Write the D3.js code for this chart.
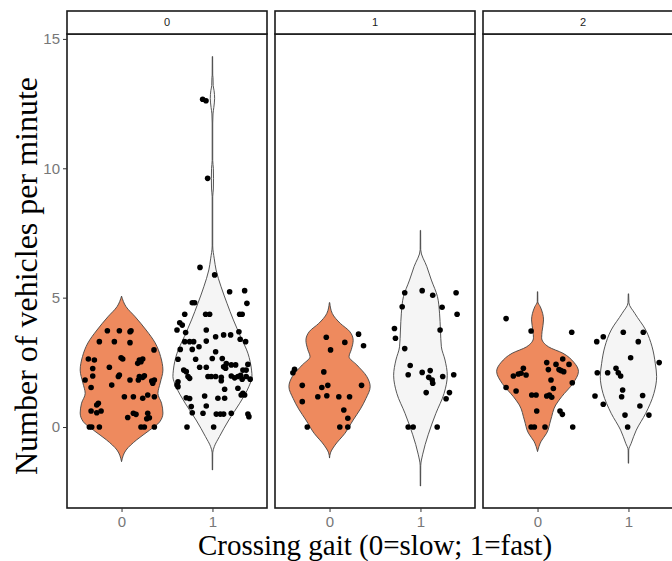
<!DOCTYPE html>
<html>
<head>
<meta charset="utf-8">
<script src="https://cdn.jsdelivr.net/npm/d3@7"></script>
<style>
  body { margin: 0; background: #fff; }
  svg { display: block; }
</style>
</head>
<body>
<div id="chart"></div>
<script>
// facets (top strip) and gait categories
var facets = ["0", "1", "2"];
var gaits = ["0", "1"];
var yTicks = [0, 5, 10, 15];
var fillColors = ["#EE8A5E", "#F5F5F5"];

// jittered points: [offset from category, vehicles per minute]
var pts00 = [[-0.156,3.72],[-0.024,3.72],[0.093,3.68],[0.104,3.72],[-0.244,3.30],[-0.079,3.30],[0.093,3.26],
  [0.357,2.98],[-0.365,2.63],[-0.299,2.59],[-0.005,2.68],[0.013,2.63],[0.196,2.59],[0.233,2.63],[0.214,2.52],[0.178,2.46],
  [-0.134,2.31],[-0.317,2.26],[-0.024,2.01],[-0.035,1.95],[-0.317,1.97],[0.196,1.95],[0.251,1.98],[0.233,1.92],
  [-0.401,1.82],[0.093,1.82],[0.185,1.82],[0.332,1.78],[0.361,1.82],[-0.108,1.62],[-0.335,1.53],[0.343,1.69],
  [0.031,1.17],[0.130,1.17],[0.233,1.11],[0.288,1.24],[0.361,1.17],[-0.255,0.92],[-0.273,0.85],[-0.335,0.62],
  [-0.273,0.55],[-0.225,0.62],[0.068,0.37],[0.130,0.53],[0.159,0.49],[0.288,0.53],[0.306,0.36],[0.277,0.32],
  [-0.354,0],[-0.328,0],[-0.244,0],[0.214,0],[0.251,0],[0.361,0]];
var pts01 = [[-0.108,12.67],[-0.071,12.61],[-0.053,9.61],[-0.137,6.17],[0.024,5.88],
  [0.189,5.23],[0.354,5.27],[0.379,4.78],[-0.222,4.8],[-0.196,4.8],[0.327,4.36],[0.299,4.36],[-0.075,4.36],[-0.031,4.36],
  [-0.305,4.36],[-0.360,4.03],[-0.332,3.94],[-0.390,3.75],[-0.295,3.65],[-0.068,3.75],[0.291,3.68],[0.035,3.49],
  [0.123,3.56],[0.2,3.56],[0.305,3.39],[0.365,3.30],[-0.305,3.3],[-0.251,3.3],[-0.207,3.3],[-0.068,3.32],[-0.148,3.10],
  [-0.354,3.0],[-0.222,3.0],[0.035,2.91],[-0.379,2.62],[-0.185,2.62],[-0.002,2.65],[0.108,2.65],[0.152,2.45],
  [0.207,2.4],[0.255,2.4],[0.123,2.33],[0.145,2.27],[-0.141,2.31],[-0.068,2.31],[0.39,2.42],[0.335,2.2],[0.371,2.2],
  [-0.316,2.2],[-0.288,2.14],[-0.269,1.95],[-0.251,1.88],[-0.049,1.95],[-0.013,1.95],[0.035,1.95],[0.097,1.92],
  [0.097,1.79],[0.207,1.97],[0.244,1.9],[0.28,1.95],[0.31,2.0],[0.327,1.85],[0.371,1.95],[0.415,1.85],
  [-0.379,1.75],[-0.390,1.62],[-0.379,1.56],[0.134,1.46],[0.28,1.5],[-0.086,1.2],[0.316,1.24],[0.335,1.3],[0.354,1.24],
  [-0.288,1.13],[-0.251,1.1],[0.06,1.11],[0.134,1.11],[-0.068,0.81],[-0.233,0.79],[-0.222,0.55],[-0.104,0.53],
  [0.042,0.5],[0.086,0.5],[0.123,0.5],[0.207,0.53],[0.39,0.5],[0.401,0.4],[-0.28,0],[0.013,0]];
var pts10 = [[-0.036,3.47],[0.168,3.27],[0.011,2.98],[0.319,3.59],[0.374,3.14],[-0.385,2.23],[-0.403,2.1],
  [-0.063,2.13],[-0.3,1.61],[-0.085,1.53],[-0.019,1.61],[0.352,1.61],[-0.129,1.17],[-0.03,1.21],[0.102,1.17],
  [0.22,1.17],[-0.3,0.98],[0.157,0.66],[0.201,0.34],[-0.245,0],[0.113,0],[0.201,0]];
var pts11 = [[-0.173,5.19],[0.019,5.27],[0.135,5.09],[0.392,5.19],[-0.201,4.65],[0.238,4.63],[0.403,4.36],
  [-0.286,3.81],[-0.275,3.43],[0.216,3.75],[-0.173,3.03],[-0.113,2.38],[-0.135,2.02],[0.019,2.11],[0.107,2.18],
  [0.091,1.92],[0.129,1.82],[0.135,1.69],[0.245,1.95],[0.366,2.02],[0.063,1.33],[0.319,1.33],[0.282,1.09],
  [-0.135,0],[-0.08,0],[0.184,0]];
var pts20 = [[-0.346,4.19],[-0.071,3.71],[0.376,3.66],[0.101,2.49],[0.203,2.42],[0.277,2.63],[0.346,2.42],
  [0.119,2.22],[0.258,2.18],[0.288,2.14],[0.236,2.22],[-0.156,2.27],[-0.181,2.08],[-0.126,2.01],[-0.211,2.05],
  [-0.266,1.97],[0.148,1.82],[0.382,1.71],[-0.346,1.53],[-0.236,1.39],[0.174,1.49],[-0.064,1.24],[-0.016,1.24],
  [0.101,1.2],[0.156,1.15],[0.13,1.24],[-0.009,0.62],[0.247,0.62],[0.273,0.49],[-0.071,0],[-0.035,0],[0.082,0],
  [0.387,0]];
var pts21 = [[-0.349,3.3],[-0.277,3.49],[-0.057,3.66],[0.163,3.66],[0.108,3.3],[0.024,2.68],[0.338,2.49],
  [-0.343,2.1],[-0.229,2.1],[-0.137,2.27],[-0.112,2.1],[-0.086,1.97],[-0.064,1.43],[-0.075,1.17],[-0.368,1.2],
  [0.156,1.22],[-0.277,0.88],[0.126,0.81],[-0.038,0.46],[0.225,0.46],[-0.009,0]];

// violin outlines: [vehicles per minute, half width in category units]
var vio00 = [[5.06,0],[4.65,0.05],[4.26,0.15],[3.75,0.27],[3.25,0.37],[2.72,0.43],[2.2,0.455],[1.7,0.425],
  [1.3,0.40],[0.92,0.44],[0.54,0.455],[0.2,0.42],[-0.12,0.31],[-0.5,0.165],[-0.89,0.05],[-1.34,0]];
var vio01 = [[14.32,0.002],[13.6,0.003],[13.5,0.006],[13.2,0.008],[13.0,0.018],[12.7,0.024],[12.35,0.015],
  [12.1,0.006],[11.75,0.003],[10.3,0.003],[10.0,0.01],[9.6,0.012],[9.2,0.01],[8.9,0.003],[7.0,0.003],
  [6.5,0.02],[6.07,0.04],[5.42,0.095],[4.78,0.16],[4.14,0.23],[3.49,0.31],[2.85,0.39],[2.2,0.43],[1.95,0.435],
  [1.56,0.40],[0.92,0.30],[0.27,0.18],[-0.37,0.077],[-0.76,0.02],[-1.0,0.003],[-1.66,0.002]];
var vio10 = [[4.81,0.002],[4.39,0.03],[4.0,0.12],[3.7,0.22],[3.35,0.26],[3.0,0.24],[2.72,0.215],[2.4,0.30],
  [1.95,0.41],[1.56,0.447],[1.1,0.40],[0.7,0.34],[0.27,0.26],[-0.24,0.17],[-0.7,0.06],[-1.0,0.01],[-1.2,0]];
var vio11 = [[7.6,0.002],[6.85,0.003],[6.2,0.07],[5.68,0.12],[5.04,0.187],[4.4,0.21],[3.75,0.22],[3.1,0.23],
  [2.59,0.27],[2.0,0.295],[1.3,0.26],[0.53,0.17],[-0.3,0.085],[-1.05,0.025],[-1.5,0.003],[-2.28,0.002]];
var vio20 = [[5.23,0.002],[4.84,0.003],[4.65,0.03],[4.14,0.066],[3.7,0.05],[3.45,0.045],[3.1,0.12],[2.85,0.28],
  [2.5,0.40],[2.15,0.45],[1.69,0.39],[1.17,0.265],[0.85,0.2],[0.27,0.145],[-0.24,0.1],[-0.55,0.04],[-0.95,0]];
var vio21 = [[5.15,0.002],[4.8,0.005],[4.39,0.07],[3.75,0.19],[3.1,0.26],[2.46,0.295],[1.95,0.31],[1.3,0.28],
  [0.53,0.19],[-0.12,0.086],[-0.63,0.03],[-0.89,0.003],[-1.4,0.002]];

var points = [[pts00, pts01], [pts10, pts11], [pts20, pts21]];
var violins = [[vio00, vio01], [vio10, vio11], [vio20, vio21]];

var width = 672, height = 561;
var plotTop = 34, plotBottom = 508, stripH = 23;

var svg = d3.select("#chart").append("svg")
  .attr("width", width)
  .attr("height", height);

// facet positions
var fx = d3.scaleBand()
  .domain(facets)
  .range([67, 683])
  .paddingInner(8 / 208);

// shared y scale
var y = d3.scaleLinear()
  .domain([-3.13, 15.19])
  .range([plotBottom, plotTop]);

// x within a panel (discrete, ggplot-style expansion)
var x = d3.scaleLinear()
  .domain([-0.6, 1.6])
  .range([0, fx.bandwidth()]);

var violinArea = d3.area()
  .curve(d3.curveMonotoneY)
  .y(function(d) { return y(d[0]); });

facets.forEach(function(f, i) {
  var g = svg.append("g").attr("transform", "translate(" + fx(f) + ",0)");

  gaits.forEach(function(gt, j) {
    var prof = violins[i][j];
    g.append("path")
      .datum(prof)
      .attr("d", violinArea
        .x0(function(d) { return x(j - d[1]); })
        .x1(function(d) { return x(j + d[1]); }))
      .attr("fill", fillColors[j])
      .attr("stroke", "#444")
      .attr("stroke-width", 0.9);

    g.selectAll(null)
      .data(points[i][j])
      .enter().append("circle")
      .attr("cx", function(d) { return x(j + d[0]); })
      .attr("cy", function(d) { return y(d[1]); })
      .attr("r", 2.8)
      .attr("fill", "#000");
  });

  // panel border
  g.append("rect")
    .attr("x", 0).attr("y", plotTop)
    .attr("width", fx.bandwidth()).attr("height", plotBottom - plotTop)
    .attr("fill", "none")
    .attr("stroke", "#1a1a1a")
    .attr("stroke-width", 1.6);

  // strip
  g.append("rect")
    .attr("x", 0).attr("y", plotTop - stripH)
    .attr("width", fx.bandwidth()).attr("height", stripH)
    .attr("fill", "#fff")
    .attr("stroke", "#1a1a1a")
    .attr("stroke-width", 1.6);
  g.append("text")
    .attr("x", fx.bandwidth() / 2)
    .attr("y", plotTop - stripH / 2)
    .attr("dy", "0.35em")
    .attr("text-anchor", "middle")
    .attr("font-family", "'Liberation Sans', Arial, sans-serif")
    .attr("font-size", 11)
    .attr("fill", "#1a1a1a")
    .text(f);

  // x axis
  var xAxis = g.append("g")
    .attr("transform", "translate(0," + plotBottom + ")")
    .call(d3.axisBottom(x).tickValues([0, 1]).tickFormat(function(d) { return gaits[d]; })
      .tickSizeOuter(0).tickSize(4).tickPadding(4));
  xAxis.attr("font-size", 15).attr("font-family", "'Liberation Sans', Arial, sans-serif");
  xAxis.select(".domain").remove();
  xAxis.selectAll("line").attr("stroke", "#333");
  xAxis.selectAll("text").attr("fill", "#777");
});

// y axis (left panel only)
var yAxis = svg.append("g")
  .attr("transform", "translate(67,0)")
  .call(d3.axisLeft(y).tickValues(yTicks).tickSize(4).tickPadding(3).tickSizeOuter(0));
yAxis.attr("font-size", 15).attr("font-family", "'Liberation Sans', Arial, sans-serif");
yAxis.select(".domain").remove();
yAxis.selectAll("line").attr("stroke", "#333");
yAxis.selectAll("text").attr("fill", "#777");

// axis titles
svg.append("text")
  .attr("x", 375)
  .attr("y", 555)
  .attr("text-anchor", "middle")
  .attr("font-family", "'Liberation Serif', 'Times New Roman', serif")
  .attr("font-size", 29)
  .text("Crossing gait (0=slow; 1=fast)");

svg.append("text")
  .attr("transform", "translate(37,276) rotate(-90)")
  .attr("text-anchor", "middle")
  .attr("font-family", "'Liberation Serif', 'Times New Roman', serif")
  .attr("font-size", 32)
  .text("Number of vehicles per minute");
</script>
</body>
</html>
